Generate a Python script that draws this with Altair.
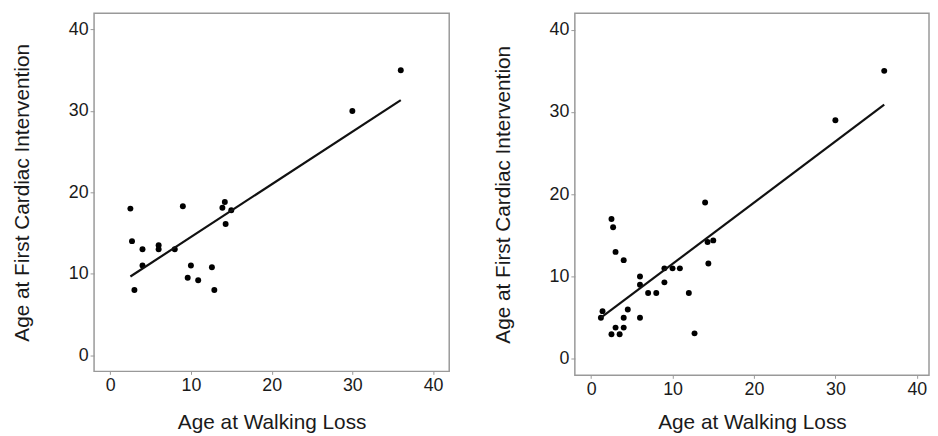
import altair as alt
import pandas as pd

# Left panel data
left_x = [2.5, 2.7, 3.0, 4.0, 4.0, 6.0, 6.0, 8.0, 9.0, 9.6, 10.0, 10.9, 12.6, 12.9,
          13.9, 14.2, 14.3, 15.0, 30.0, 36.0]
left_y = [18.0, 14.0, 8.0, 13.0, 11.0, 13.5, 13.0, 13.0, 18.3, 9.5, 11.0, 9.2, 10.8, 8.0,
          18.1, 18.8, 16.1, 17.8, 30.0, 35.0]

# Right panel data
right_x = [1.2, 1.4, 2.5, 2.7, 2.5, 3.0, 3.0, 3.5, 4.0, 4.0, 4.0, 4.5, 6.0, 6.0, 6.0,
           7.0, 8.0, 9.0, 9.0, 10.0, 10.9, 12.0, 12.7, 14.0, 14.3, 14.4, 15.0, 30.0, 36.0]
right_y = [5.0, 5.8, 17.0, 16.0, 3.0, 13.0, 3.8, 3.0, 12.0, 5.0, 3.8, 6.0, 10.0, 9.0, 5.0,
           8.0, 8.0, 11.0, 9.3, 11.0, 11.0, 8.0, 3.1, 19.0, 14.2, 11.6, 14.4, 29.0, 35.0]

tick_values = [0, 10, 20, 30, 40]
x_title = "Age at Walking Loss"
y_title = "Age at First Cardiac Intervention"


def panel(xs, ys, w, h, xmax, xtitle_pad):
    df = pd.DataFrame({"x": xs, "y": ys})
    xenc = alt.X("x:Q", scale=alt.Scale(domain=[-2, xmax], nice=False, zero=False),
                 axis=alt.Axis(values=tick_values, title=x_title, titlePadding=xtitle_pad))
    yenc = alt.Y("y:Q", scale=alt.Scale(domain=[-2, 42], nice=False, zero=False),
                 axis=alt.Axis(values=tick_values, title=y_title))
    pts = alt.Chart(df).mark_circle(size=36, color="black", opacity=1).encode(x=xenc, y=yenc)
    line = (
        alt.Chart(df)
        .transform_regression("x", "y")
        .mark_line(color="#111", strokeWidth=2.2)
        .encode(x="x:Q", y="y:Q")
    )
    return alt.layer(pts, line).properties(width=w, height=h)


chart = (
    alt.hconcat(
        panel(left_x, left_y, 359, 362, 42, 18),
        panel(right_x, right_y, 358, 366, 41.5, 14),
        spacing=42,
    )
    .properties(padding={"left": 3, "top": 2, "right": 0, "bottom": 0})
    .configure_view(stroke="#999", strokeWidth=1.5)
    .configure_axis(
        labelFont="Liberation Sans", titleFont="Liberation Sans",
        labelFontSize=18, titleFontSize=21, titleFontWeight="normal",
        labelColor="#1a1a1a", titleColor="#1a1a1a",
        tickColor="#999", domain=False, grid=False, labelPadding=2,
    )
    .configure_axisY(titlePadding=36, tickSize=4)
    .configure_axisX(tickSize=3)
)

chart.save("out.html", embed_options={"renderer": "svg", "actions": False})
